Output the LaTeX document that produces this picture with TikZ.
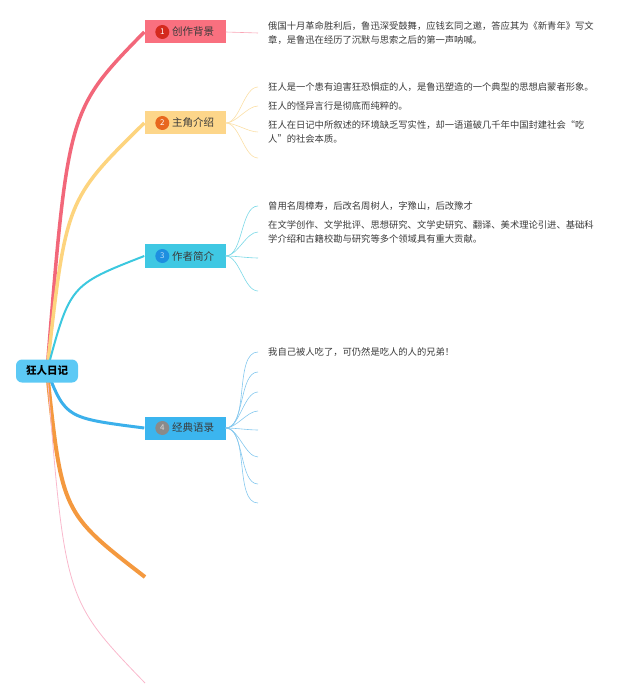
\documentclass[tikz,border=0pt]{standalone}
\usepackage{fontspec}
\setmainfont{Noto Sans CJK SC}
\usetikzlibrary{positioning,backgrounds}
\usepackage{xcolor}
\definecolor{rootc}{HTML}{5CC9F5}
\definecolor{redl}{HTML}{F2677A}
\definecolor{redb}{HTML}{F9707F}
\definecolor{redn}{HTML}{D42A1E}
\definecolor{redf}{HTML}{F9A5B5}
\definecolor{yell}{HTML}{FDD47E}
\definecolor{yelb}{HTML}{FDD68A}
\definecolor{yeln}{HTML}{E8671E}
\definecolor{yelf}{HTML}{FBDFA6}
\definecolor{cyal}{HTML}{3CC8DF}
\definecolor{cyab}{HTML}{3FC8E3}
\definecolor{cyan}{HTML}{1E8FE0}
\definecolor{cyaf}{HTML}{7AD8E6}
\definecolor{blul}{HTML}{3BB0EB}
\definecolor{blub}{HTML}{3BB5EF}
\definecolor{blun}{HTML}{8A8A8A}
\definecolor{bluf}{HTML}{85C8EE}
\definecolor{oral}{HTML}{F4993F}
\definecolor{pinl}{HTML}{F9B8CC}
\definecolor{txt}{HTML}{3A3A3A}

\begin{document}
\begin{tikzpicture} [
    x = 1pt, y = 1pt,
    root/.style = { fill = rootc, rounded corners = 6pt, minimum width = 62pt, minimum height = 23pt,
                    inner sep = 0, font = \fontsize{10.5}{12}\selectfont\bfseries },
    branch/.style = { minimum width = 81pt, minimum height = 23pt, inner sep = 0, text = txt,
                      font = \fontsize{10.5}{12}\selectfont },
    numdot/.style = { circle, minimum size = 14pt, inner sep = 0, text = white,
                      font = \fontsize{8}{8}\selectfont },
    leaf/.style = { anchor = west, inner xsep = 10pt, inner ysep = 0, align = left, text = txt,
                    font = \fontsize{9.3}{14}\selectfont },
    fan/.style = { line width = 0.6pt, out = 0, in = 180, looseness = 0.75 }
    ]

    % centre and main topics
    \node [root] (root) at (47,-371) {狂人日记};
    \node [branch, fill = redb] (b1) at (185,-32) {\hspace*{16pt}创作背景};
    \node [branch, fill = yelb] (b2) at (185,-123) {\hspace*{16pt}主角介绍};
    \node [branch, fill = cyab] (b3) at (185,-256) {\hspace*{16pt}作者简介};
    \node [branch, fill = blub] (b4) at (185,-428) {\hspace*{16pt}经典语录};
    \node [numdot, fill = redn] (n1) at ([xshift=18pt]b1.west) {1};
    \node [numdot, fill = yeln] (n2) at ([xshift=18pt]b2.west) {2};
    \node [numdot, fill = cyan, text = white!70!cyan] (n3) at ([xshift=18pt]b3.west) {3};
    \node [numdot, fill = blun, text = white!70!blun] (n4) at ([xshift=18pt]b4.west) {4};
    \coordinate (e5) at (145,-577);
    \coordinate (e6) at (145,-683);

    % details
    \node [leaf] (l11) at (258,-33) {俄国十月革命胜利后，鲁迅深受鼓舞，应钱玄同之邀，答应其为《新青年》写文\\章，是鲁迅在经历了沉默与思索之后的第一声呐喊。};
    \node [leaf] (l21) at (258,-87) {狂人是一个患有迫害狂恐惧症的人，是鲁迅塑造的一个典型的思想启蒙者形象。};
    \node [leaf] (l22) at (258,-106) {狂人的怪异言行是彻底而纯粹的。};
    \node [leaf] (l23) at (258,-132) {狂人在日记中所叙述的环境缺乏写实性，却一语道破几千年中国封建社会“吃\\人”的社会本质。};
    \coordinate (l24) at (258,-158);
    \node [leaf] (l31) at (258,-206) {曾用名周樟寿，后改名周树人，字豫山，后改豫才};
    \node [leaf] (l32) at (258,-232) {在文学创作、文学批评、思想研究、文学史研究、翻译、美术理论引进、基础科\\学介绍和古籍校勘与研究等多个领域具有重大贡献。};
    \coordinate (l33) at (258,-258);
    \coordinate (l34) at (258,-291);
    \node [leaf] (l41) at (258,-352) {我自己被人吃了，可仍然是吃人的人的兄弟！};
    \foreach \n/\y in {2/372, 3/392, 4/411, 5/430, 6/457, 7/484, 8/503}
      \coordinate (l4\n) at (258,-\y);

    \begin{scope}[on background layer]
      \draw [redl, line width = 3.5pt] (root.center) .. controls (68,-110) .. (b1.west);
      \draw [yell, line width = 3.5pt] (root.center) .. controls (66,-200) .. (b2.west);
      \draw [cyal, line width = 2pt] (root.center) .. controls (70,-285) .. (b3.west);
      \draw [blul, line width = 3pt] (root.center) .. controls (66,-418) .. (b4.west);
      \draw [oral, line width = 4pt] (root.center) .. controls (62,-513) .. (e5);
      \draw [pinl, line width = 0.8pt] (root.center) .. controls (65,-600) .. (e6);
    \end{scope}

    \draw [line width = 0.6pt, redf] (b1.east) -- (l11.west);
    \foreach \i in {l21, l22, l23}
      \draw [fan, yelf] (b2.east) to (\i.west);
    \draw [fan, yelf] (b2.east) to (l24);
    \foreach \i in {l31, l32}
      \draw [fan, cyaf] (b3.east) to (\i.west);
    \foreach \i in {l33, l34}
      \draw [fan, cyaf] (b3.east) to (\i);
    \draw [fan, bluf] (b4.east) to (l41.west);
    \foreach \i in {l42, l43, l44, l45, l46, l47, l48}
      \draw [fan, bluf] (b4.east) to (\i);

    \useasboundingbox (0,0) rectangle (640,-700);
  \end{tikzpicture}
\end{document}
